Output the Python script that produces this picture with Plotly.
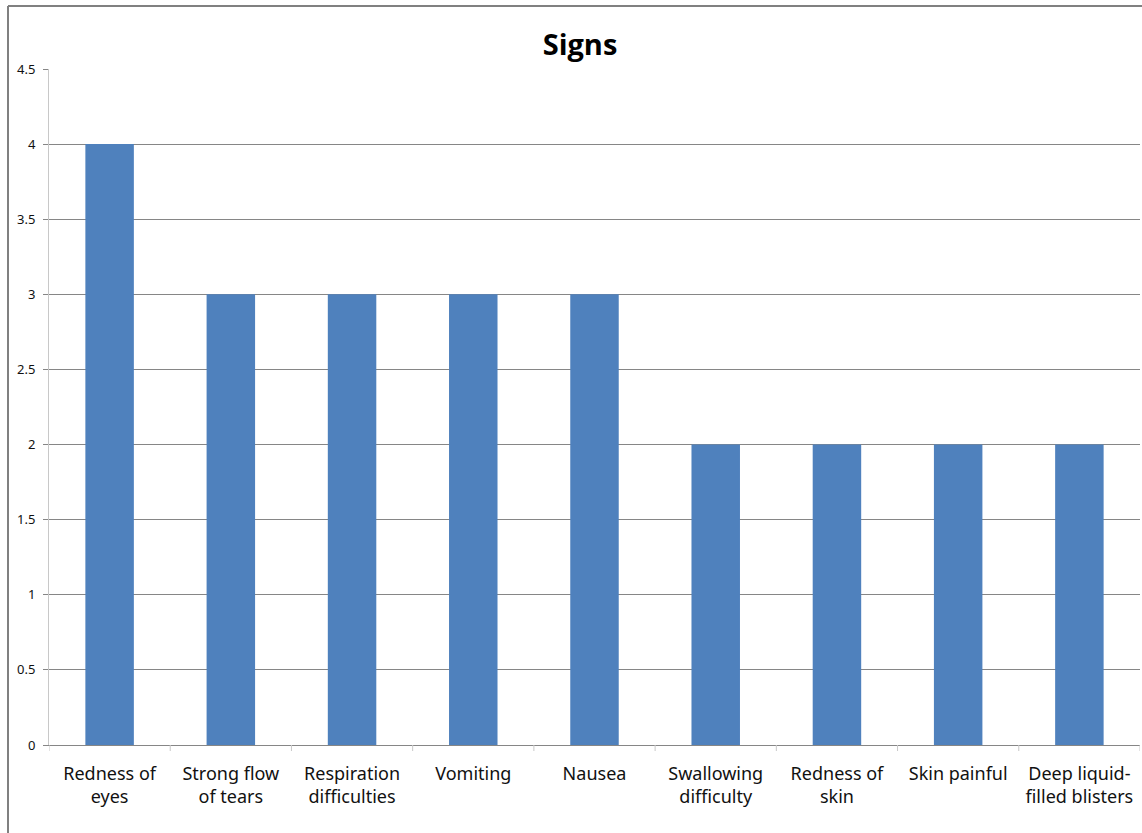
import plotly.graph_objects as go

categories = ["Redness of<br>eyes", "Strong flow<br>of tears", "Respiration<br>difficulties",
              "Vomiting", "Nausea", "Swallowing<br>difficulty", "Redness of<br>skin",
              "Skin painful", "Deep liquid-<br>filled blisters"]
values = [4, 3, 3, 3, 3, 2, 2, 2, 2]
y_ticks = [0, 0.5, 1, 1.5, 2, 2.5, 3, 3.5, 4, 4.5]
y_tick_labels = ["0", "0.5", "1", "1.5", "2", "2.5", "3", "3.5", "4", "4.5"]

W, H = 1142, 833
L, R, T, B = 49, 2, 69, 88
pw, ph = W - L - R, H - T - B

def px_x(p):
    return (p - L) / pw

def px_y(p):
    return (H - B - p) / ph

fig = go.Figure(go.Bar(x=list(range(len(categories))), y=values,
                       marker=dict(color="#4F81BD", line=dict(width=0)),
                       width=0.4))

fig.update_layout(
    width=W, height=H,
    margin=dict(l=L, r=R, t=T, b=B),
    paper_bgcolor="white", plot_bgcolor="white",
    showlegend=False,
    title=dict(text="<b>Signs</b>", x=px_x(580), xref="paper", xanchor="center",
               y=1 - 45 / H, yanchor="middle",
               font=dict(family="Open Sans, Noto Sans, sans-serif", size=29, color="black")),
    font=dict(family="Noto Sans, sans-serif", color="black"),
)

fig.update_xaxes(
    range=[-0.5, len(categories) - 0.5],
    tickmode="array", tickvals=list(range(len(categories))), ticktext=categories,
    showgrid=False, ticks="", showline=True, linecolor="#868686", linewidth=1,
    tickfont=dict(size=18, family="Noto Sans, sans-serif", color="#111111"),
    ticklabelstandoff=12,
    zeroline=False, fixedrange=True,
)

fig.update_yaxes(
    range=[0, 4.5], tickmode="array", tickvals=y_ticks, ticktext=y_tick_labels,
    showgrid=True, gridcolor="#868686", gridwidth=1,
    ticks="outside", ticklen=5, tickcolor="#868686",
    showline=True, linecolor="#C8C8C8", linewidth=1,
    tickfont=dict(size=13, family="Noto Sans, sans-serif", color="#111111"),
    ticklabelstandoff=5,
    zeroline=False, fixedrange=True,
)

shapes = []
# category separator ticks below x axis
for i in range(len(categories) + 1):
    shapes.append(dict(type="line", xref="x", yref="paper",
                       x0=i - 0.5, x1=i - 0.5, y0=0, y1=px_y(H - B + 6),
                       line=dict(color="#C8C8C8", width=1)))
# outer frame (left and top)
shapes.append(dict(type="line", xref="paper", yref="paper",
                   x0=px_x(8), x1=px_x(8), y0=px_y(6), y1=px_y(H),
                   line=dict(color="#808080", width=2)))
shapes.append(dict(type="line", xref="paper", yref="paper",
                   x0=px_x(8), x1=px_x(W), y0=px_y(6), y1=px_y(6),
                   line=dict(color="#808080", width=2)))
fig.update_layout(shapes=shapes)

fig.write_html("out.html")
